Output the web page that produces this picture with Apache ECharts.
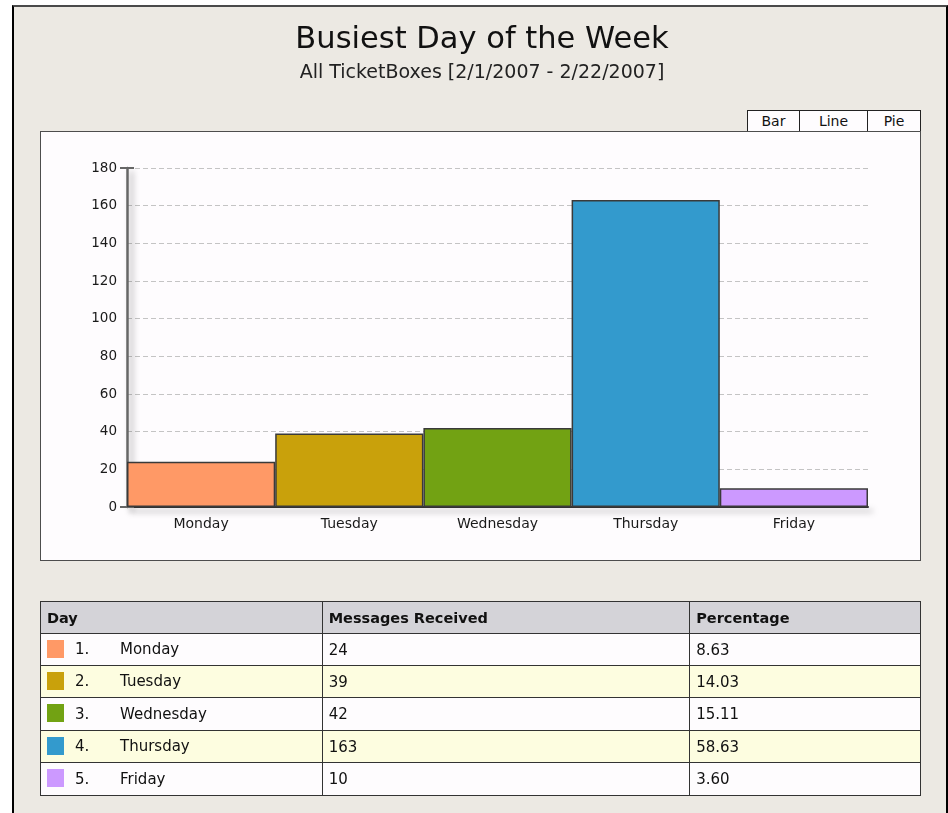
<!DOCTYPE html>
<html>
<head>
<meta charset="utf-8">
<script src="https://cdn.jsdelivr.net/npm/echarts@6/dist/echarts.min.js"></script>
<style>
  html, body { margin: 0; padding: 0; background: #ffffff; width: 948px; height: 813px; overflow: hidden; font-family: "DejaVu Sans", Verdana, sans-serif; }
  #page { position: absolute; left: 12px; top: 5px; width: 932px; height: 820px; background: #ECE9E3;
          border-left: 2px solid #000; border-top: 2px solid #4a4a4a; border-right: 2px solid #000; }
  #chartbox { position: absolute; left: 40px; top: 131px; width: 879px; height: 428px; background: #FEFCFE; border: 1px solid #4d4d4d; z-index: 1; }
  #chart { position: absolute; left: 0; top: 0; width: 948px; height: 813px; z-index: 2; }
  .btn { position: absolute; top: 110px; height: 20px; background: #FEFCFE; border: 1px solid #222; border-bottom: none;
         font-size: 14px; line-height: 21px; text-align: center; color: #111; z-index: 3; box-sizing: content-box; }
  #tbl { position: absolute; left: 40px; top: 601px; width: 881px; border-collapse: collapse; z-index: 3; font-size: 15px; color: #111; }
  #tbl td, #tbl th { border: 1px solid #333; padding: 0 0 0 6px; text-align: left; vertical-align: middle; }
  #tbl th { background: #D4D3D8; font-weight: bold; font-size: 14.5px; height: 31px; }
  #tbl tr.w td { background: #FEFCFE; }
  #tbl tr.y td { background: #FDFDE0; }
  .sw { display: inline-block; width: 17px; height: 18px; vertical-align: middle; margin-right: 11px; position: relative; top: -1px; }
  .num { display: inline-block; width: 45px; }
</style>
</head>
<body>
<div id="page"></div>
<div id="chartbox"></div>
<div class="btn" style="left:747px;width:51px;">Bar</div>
<div class="btn" style="left:799px;width:67px;">Line</div>
<div class="btn" style="left:867px;width:52px;">Pie</div>
<div id="chart"></div>
<table id="tbl"></table>
<script>
const titleText = 'Busiest Day of the Week';
const subtitleText = 'All TicketBoxes [2/1/2007 - 2/22/2007]';
const categories = ['Monday', 'Tuesday', 'Wednesday', 'Thursday', 'Friday'];
const messages = [24, 39, 42, 163, 10];
const percentages = ['8.63', '14.03', '15.11', '58.63', '3.60'];
const barColors = ['#FF9966', '#C9A10B', '#72A213', '#339ACD', '#CC99FF'];
const tableHeaders = ['Day', 'Messages Received', 'Percentage'];
const yMin = 0, yMax = 180, yStep = 20;

// table
const tbl = document.getElementById('tbl');
let html = '<colgroup><col style="width:282px"><col style="width:368px"><col style="width:231px"></colgroup>';
html += '<tr>' + tableHeaders.map(h => '<th>' + h + '</th>').join('') + '</tr>';
const rowH = [32, 32, 33, 32, 33];
categories.forEach((c, i) => {
  html += '<tr class="' + (i % 2 ? 'y' : 'w') + '" style="height:' + rowH[i] + 'px">' +
    '<td><span class="sw" style="background:' + barColors[i] + '"></span><span class="num">' + (i + 1) + '.</span>' + c + '</td>' +
    '<td>' + messages[i] + '</td><td>' + percentages[i] + '</td></tr>';
});
tbl.innerHTML = html;

const chart = echarts.init(document.getElementById('chart'), null, { renderer: 'canvas' });
const axisShadow = { shadowColor: 'rgba(0,0,0,0.35)', shadowBlur: 6, shadowOffsetX: 4, shadowOffsetY: 4 };
chart.setOption({
  backgroundColor: 'transparent',
  animation: false,
  title: {
    text: titleText,
    subtext: subtitleText,
    left: 477,
    textAlign: 'center',
    top: 20,
    itemGap: 8,
    textStyle: { fontFamily: 'DejaVu Sans', fontSize: 30.5, fontWeight: 'normal', color: '#111' },
    subtextStyle: { fontFamily: 'DejaVu Sans', fontSize: 19, color: '#222' }
  },
  grid: { left: 127, right: 80, top: 168, bottom: 306, containLabel: false },
  xAxis: {
    type: 'category',
    data: categories,
    axisTick: { show: false },
    axisLine: { lineStyle: Object.assign({ color: '#333', width: 2 }, axisShadow) },
    axisLabel: { fontFamily: 'DejaVu Sans', fontSize: 14, color: '#1a1a1a', margin: 10 }
  },
  yAxis: {
    type: 'value',
    min: yMin, max: yMax, interval: yStep,
    axisLine: { show: true, symbol: ['rect', 'rect'], symbolSize: [14, 2], lineStyle: Object.assign({ color: '#666', width: 2.5 }, axisShadow) },
    axisTick: { show: false },
    axisLabel: { fontFamily: 'DejaVu Sans', fontSize: 13.5, color: '#1a1a1a', margin: 10 },
    splitLine: { show: true, lineStyle: { color: '#c4c4c4', width: 1, type: [5, 3] } }
  },
  series: [{
    type: 'bar',
    barCategoryGap: '0%',
    data: messages.map((v, i) => ({ value: v, itemStyle: { color: barColors[i] } })),
    itemStyle: { borderColor: '#3a3a3a', borderWidth: 1.5 }
  }]
});
</script>
</body>
</html>
